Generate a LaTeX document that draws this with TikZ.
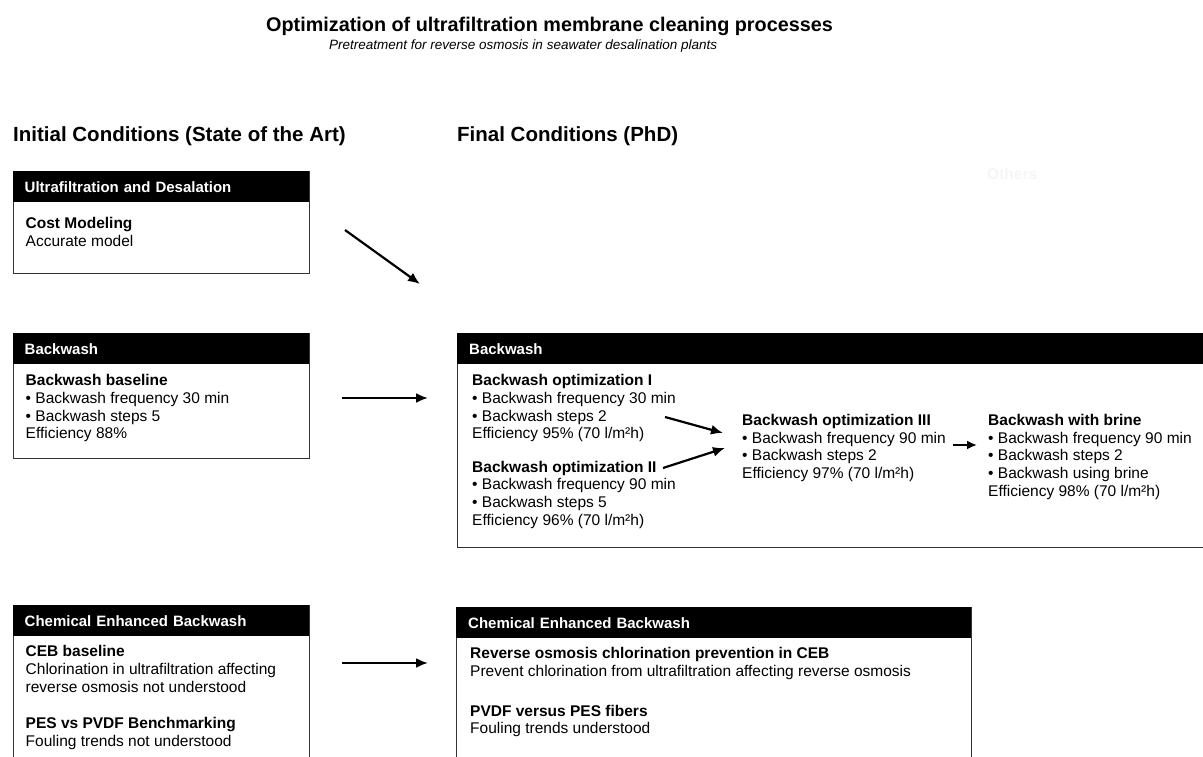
\documentclass[tikz,border=0pt]{standalone}
\usepackage{fontspec}
\setmainfont{Liberation Sans}
\usetikzlibrary{positioning,arrows.meta}
\definecolor{frame}{rgb}{0.2,0.2,0.2}
\definecolor{ghost}{rgb}{0.96,0.96,0.96}
\newcommand{\txtfont}{\fontsize{15.5}{17.7}\selectfont}
\tikzset{
  title/.style = {anchor=base west,inner sep=0pt,font=\fontsize{19.8}{24}\selectfont\bfseries},
  subtitle/.style = {anchor=base west,inner sep=0pt,font=\fontsize{13.5}{16}\selectfont\itshape},
  colhead/.style = {anchor=base west,inner sep=0pt,font=\fontsize{20.5}{24}\selectfont\bfseries},
  faint/.style = {anchor=base west,inner sep=0pt,text=ghost,font=\fontsize{15.5}{18}\selectfont\bfseries},
  boxframe/.style = {draw=frame,line width=1pt,anchor=north west,inner sep=0pt},
  boxhead/.style = {fill=black,text=white,anchor=north west,align=left,inner xsep=12pt,inner ysep=0pt,
    minimum height=31pt,font=\fontsize{15}{18}\selectfont\bfseries},
  boxtext/.style = {anchor=north west,inner sep=0pt,align=left,font=\txtfont},
  arr/.style = {-{Latex[length=12pt,width=10pt]},line width=2.2pt}
}

\begin{document}
\begin{tikzpicture}[x=1pt,y=-1pt]
\useasboundingbox (0,0) rectangle (1203,757);

\node[title] (ttl) at (266,32) {Optimization of ultrafiltration membrane cleaning processes};
\node[subtitle] (sub) at (329,50) {Pretreatment for reverse osmosis in seawater desalination plants};

\node[colhead] (init) at (13,142) {Initial Conditions (State of the Art)};
\node[colhead] (final) at (457,142) {Final Conditions (PhD)};
\node[faint] (others) at (987,179) {Others};

% initial conditions
\node[boxframe,minimum width=296pt,minimum height=102pt] (cost) at (12.5,171) {};
\node[boxhead,text width=272pt] (costh) at (cost.north west) {Ultrafiltration and Desalation};
\node[boxtext,below right=15pt and 13pt of costh.south west] (costt)
  {\textbf{Cost Modeling}\\Accurate model};

\node[boxframe,minimum width=296pt,minimum height=125pt] (bwl) at (12.5,333) {};
\node[boxhead,text width=272pt] (bwlh) at (bwl.north west) {Backwash};
\node[boxtext,below right=10pt and 13pt of bwlh.south west] (bwlt)
  {\textbf{Backwash baseline}\\• Backwash frequency 30 min\\• Backwash steps 5\\Efficiency 88\%};

\node[boxframe,minimum width=296pt,minimum height=200pt] (cebl) at (12.5,605) {};
\node[boxhead,text width=272pt] (ceblh) at (cebl.north west) {Chemical Enhanced Backwash};
\node[boxtext,below right=9pt and 13pt of ceblh.south west] (ceblt)
  {\textbf{CEB baseline}\\Chlorination in ultrafiltration affecting\\reverse osmosis not understood\\[18.5pt]
   \textbf{PES vs PVDF Benchmarking}\\Fouling trends not understood};

% final conditions
\node[boxframe,minimum width=760pt,minimum height=214pt] (bwr) at (457,333) {};
\node[boxhead,text width=736pt] (bwrh) at (bwr.north west) {Backwash};
\node[boxtext,below right=10pt and 15pt of bwrh.south west] (opt1)
  {\textbf{Backwash optimization I}\\• Backwash frequency 30 min\\• Backwash steps 2\\Efficiency 95\% (70 l/m²h)};
\node[boxtext,below=18.5pt of opt1.south west,anchor=north west] (opt2)
  {\textbf{Backwash optimization II}\\• Backwash frequency 90 min\\• Backwash steps 5\\Efficiency 96\% (70 l/m²h)};
\node[boxtext] (opt3) at (742,414)
  {\textbf{Backwash optimization III}\\• Backwash frequency 90 min\\• Backwash steps 2\\Efficiency 97\% (70 l/m²h)};
\node[boxtext] (brine) at (988,414)
  {\textbf{Backwash with brine}\\• Backwash frequency 90 min\\• Backwash steps 2\\• Backwash using brine\\Efficiency 98\% (70 l/m²h)};

\node[boxframe,minimum width=515pt,minimum height=200pt] (cebr) at (456,607) {};
\node[boxhead,text width=491pt] (cebrh) at (cebr.north west) {Chemical Enhanced Backwash};
\node[boxtext,below right=9pt and 14pt of cebrh.south west] (cebrt)
  {\textbf{Reverse osmosis chlorination prevention in CEB}\\Prevent chlorination from ultrafiltration affecting reverse osmosis\\[22pt]
   \textbf{PVDF versus PES fibers}\\Fouling trends understood};

% arrows
\coordinate (costout) at (345,230);
\coordinate (costin) at (420,284);
\coordinate (bwout) at (342,398);
\coordinate (bwin) at (428,398);
\coordinate (cebout) at (342,663);
\coordinate (cebin) at (428,663);
\coordinate (opt1out) at (665,417);
\coordinate (opt2out) at (663,468);
\coordinate (opt3ina) at (723,433);
\coordinate (opt3inb) at (725,448);
\coordinate (opt3out) at (953,445);
\coordinate (brinein) at (977,445);

\draw[arr] (costout) -- (costin);
\draw[arr] (bwout) -- (bwin);
\draw[arr] (cebout) -- (cebin);
\draw[arr] (opt1out) -- (opt3ina);
\draw[arr] (opt2out) -- (opt3inb);
\draw[arr,-{Latex[length=10pt,width=9pt]}] (opt3out) -- (brinein);
\end{tikzpicture}
\end{document}
